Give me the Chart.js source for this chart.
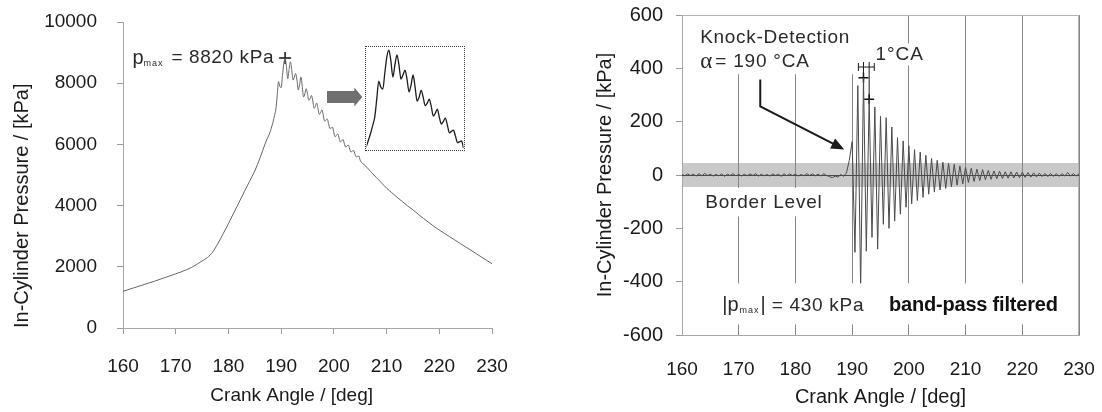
<!DOCTYPE html>
<html>
<head>
<meta charset="utf-8">
<title>Knock detection</title>
<script src="https://cdn.jsdelivr.net/npm/chart.js@4.4.1/dist/chart.umd.min.js"></script>
<style>
  html, body { margin: 0; padding: 0; background: #fff; }
  #wrap { position: relative; width: 1102px; height: 412px; overflow: hidden; }
  .pane { position: absolute; top: 0; height: 412px; }
  #leftPane { left: 0; width: 540px; }
  #rightPane { left: 540px; width: 562px; }
  #insetBox { position: absolute; box-sizing: border-box; border: 1.5px dotted #3a3a3a; background: #fff; }
</style>
</head>
<body>
<div id="wrap">
  <div class="pane" id="leftPane"><canvas id="chartPressure"></canvas></div>
  <div class="pane" id="rightPane"><canvas id="chartBandpass"></canvas></div>
  <div id="insetBox"><canvas id="chartInset"></canvas></div>
</div>
<script>
// ---- raw in-cylinder pressure [kPa] over crank angle [deg] ----
// compression rise, sampled per degree
const riseAngles = [160, 162, 164, 166, 168, 170, 172, 173, 174, 175, 176, 177,
                    178, 179, 180, 181, 182, 183, 184, 185, 186, 187];
const riseKpa = [1200, 1310, 1420, 1530, 1650, 1770, 1900, 1980, 2080, 2190, 2300, 2480,
                 2760, 3080, 3410, 3760, 4100, 4450, 4790, 5130, 5560, 6040];
// knock window, sampled every quarter degree from 188 to 205
const knockStart = 188;
const knockStep = 0.25;
const knockKpa = [
  6450, 6600, 6760, 6950,   // 188
  7150, 7600, 8050, 7900,   // 189
  7850, 8250, 8650, 8820,   // 190
  8550, 8150, 8450, 8700,   // 191
  8450, 8100, 8200, 8320,   // 192
  8100, 7780, 7950, 8200,   // 193
  7900, 7550, 7650, 7820,   // 194
  7650, 7440, 7500, 7600,   // 195
  7420, 7180, 7250, 7350,   // 196
  7150, 6980, 7050, 7130,   // 197
  6950, 6760, 6800, 6830,   // 198
  6680, 6520, 6540, 6560,   // 199
  6380, 6250, 6300, 6340,   // 200
  6200, 6080, 6120, 6160,   // 201
  6020, 5910, 5950, 5980,   // 202
  5850, 5750, 5780, 5800,   // 203
  5680, 5590, 5610, 5620,   // 204
  5480                      // 205
];
// expansion, sampled per degree
const tailAngles = [206, 207, 208, 209, 210, 211, 212, 213, 214, 215, 216, 217, 218,
                    219, 220, 221, 222, 223, 224, 225, 226, 227, 228, 229, 230];
const tailKpa = [5300, 5110, 4930, 4750, 4570, 4420, 4270, 4130, 3990, 3860, 3720, 3580, 3450,
                 3320, 3200, 3090, 2980, 2870, 2760, 2650, 2540, 2430, 2320, 2210, 2100];

// ---- band-pass filtered pressure [kPa], every half degree from 160 ----
const bandStart = 160;
const bandStep = 0.5;
const bandKpa = [
  // 160 .. 189 : background noise
  2, -3, 4, -2, 3, -4, 5, -3, 6, -2,
  3, -4, 2, -3, 4, -5, 3, -2, 5, -3,
  2, -4, 3, -3, 4, -2, 5, -4, 3, -3,
  2, -4, 4, -2, 3, -5, 5, -3, 4, -2,
  3, -4, 2, -3, 5, -2, 4, -3, 3, -4,
  5, -2, -6, -10, -4, -8, 2, -5, 8,
  // 189.5 .. 200 : knock onset
  55, 125, -290, 335, -430, 365, -286, 284, -234, 255, -278,
  220, -185, 215, -200, 180, -173, 140, -147, 128, -121, 110,
  // 200.5 .. 210
  -108, 95, -96, 86, -84, 74, -72, 62, -64, 55,
  -56, 48, -50, 44, -44, 40, -38, 34, -33, 28,
  // 210.5 .. 220
  -28, 25, -24, 22, -21, 20, -18, 17, -16, 15,
  -14, 14, -13, 12, -12, 12, -11, 11, -10, 10,
  // 220.5 .. 230
  -9, 9, -8, 8, -7, 7, -6, 6, -6, 6,
  -5, 5, -5, 5, -4, 9, -4, 5, -4, 4
];
const borderLevel = 45;          // +/- band drawn around zero
const periodMarks = [192, 193];  // two successive peaks, one period apart

// ---- axis ticks ----
const angleTicks = [160, 170, 180, 190, 200, 210, 220, 230];
const pressureTicks = [0, 2000, 4000, 6000, 8000, 10000];
const bandTicks = [-600, -400, -200, 0, 200, 400, 600];

// ---- annotation anchors (data coordinates) ----
const insetFrame = { from: 205.9, to: 224.9, top: 9215, bottom: 5780 };
const insetView = { from: 188, to: 200, min: 6350, max: 8880 };
const zoomArrow = { from: 198.7, to: 205.4, at: 7550 };
const knockArrow = [[173.8, 358], [173.8, 257], [188.6, 96]];

const SANS = "'Liberation Sans', Arial, sans-serif";
const INK = '#2a2a2a';

const rawPoints = [
  ...riseAngles.map((a, i) => ({ x: a, y: riseKpa[i] })),
  ...knockKpa.map((v, i) => ({ x: knockStart + i * knockStep, y: v })),
  ...tailAngles.map((a, i) => ({ x: a, y: tailKpa[i] }))
];
const bandPoints = bandKpa.map((v, i) => ({ x: bandStart + i * bandStep, y: v }));

const rawPeak = rawPoints.reduce((m, p) => (p.y > m.y ? p : m));
const bandPeak = bandPoints.reduce((m, p) => (Math.abs(p.y) > Math.abs(m.y) ? p : m));
const markPoints = periodMarks.map((a) => bandPoints.find((p) => p.x === a));

function step(list) { return list[1] - list[0]; }

// Draw a row of text runs (used for subscripts like p_max); returns its width.
function drawRuns(ctx, runs, x, y, measureOnly) {
  let cx = x;
  runs.forEach((r) => {
    ctx.font = r.font;
    ctx.letterSpacing = r.spacing || '0px';
    if (!measureOnly) ctx.fillText(r.text, cx, y + (r.dy || 0));
    cx += ctx.measureText(r.text).width + (r.gap || 0);
  });
  ctx.letterSpacing = '0px';
  return cx - x;
}

function whiteBox(ctx, area, x0, y0, x1, y1) {
  const l = Math.max(x0, area.left + 1), r = Math.min(x1, area.right - 1);
  const t = Math.max(y0, area.top + 1), b = Math.min(y1, area.bottom - 1);
  ctx.fillStyle = '#fff';
  ctx.fillRect(l, t, r - l, b - t);
}

// Fixed scale box size; edge labels may hang over the layout padding.
function fixedBox(size) {
  return (s) => {
    if (s.isHorizontal()) s.height = size; else s.width = size;
    s.paddingLeft = s.paddingRight = s.paddingTop = s.paddingBottom = 0;
  };
}

function baseScale(ticks, size) {
  return {
    type: 'linear',
    min: ticks[0],
    max: ticks[ticks.length - 1],
    ticks: { stepSize: step(ticks), color: '#1a1a1a', font: { family: SANS, size },
             callback: (v) => String(v) },
    border: { color: '#a8a8a8', width: 1 }
  };
}

// ---- left: raw trace ----
const pressureDecor = {
  id: 'pressureDecor',
  afterDatasetsDraw(chart) {
    const { ctx, scales: { x, y } } = chart;
    ctx.save();

    // gray block arrow pointing at the magnified view
    const ax0 = x.getPixelForValue(zoomArrow.from);
    const ax1 = x.getPixelForValue(zoomArrow.to);
    const ay = y.getPixelForValue(zoomArrow.at);
    ctx.fillStyle = '#707070';
    ctx.beginPath();
    ctx.moveTo(ax0, ay - 6);
    ctx.lineTo(ax1 - 8, ay - 6);
    ctx.lineTo(ax1 - 8, ay - 9.5);
    ctx.lineTo(ax1, ay);
    ctx.lineTo(ax1 - 8, ay + 9.5);
    ctx.lineTo(ax1 - 8, ay + 6);
    ctx.lineTo(ax0, ay + 6);
    ctx.closePath();
    ctx.fill();

    // p_max label left of the peak marker
    const runs = [
      { text: 'p', font: `20px ${SANS}` },
      { text: 'max', font: `9px ${SANS}`, spacing: '1px', dy: 5, gap: 2 },
      { text: ' = ' + rawPeak.y + ' kPa', font: `19px ${SANS}`, spacing: '0.6px' }
    ];
    ctx.fillStyle = INK;
    ctx.textBaseline = 'middle';
    ctx.textAlign = 'left';
    const px = x.getPixelForValue(rawPeak.x);
    const py = y.getPixelForValue(rawPeak.y);
    const w = drawRuns(ctx, runs, 0, 0, true);
    drawRuns(ctx, runs, px - 11 - w, py);
    ctx.restore();
  }
};

const leftX = baseScale(angleTicks, 19);
leftX.ticks.padding = 21;
leftX.grid = { drawOnChartArea: false, tickLength: 6, color: '#9a9a9a' };
// trailing spaces pull the centred title a little to the left
leftX.title = { display: true, text: 'Crank Angle / [deg]      ', color: '#1a1a1a',
                font: { family: SANS, size: 19 }, padding: { top: 0, bottom: 5 } };
leftX.afterFit = fixedBox(84);

const leftY = baseScale(pressureTicks, 19);
leftY.ticks.padding = 20;
leftY.grid = { drawOnChartArea: false, tickLength: 6, color: '#9a9a9a' };
leftY.title = { display: true, text: 'In-Cylinder Pressure / [kPa]', color: '#1a1a1a', align: 'start',
                font: { family: SANS, size: 20 }, padding: { top: 10, bottom: 0 } };
leftY.afterFit = fixedBox(123);

const leftChart = new Chart(document.getElementById('chartPressure'), {
  type: 'line',
  data: {
    datasets: [
      { data: rawPoints, borderColor: '#666', borderWidth: 1, pointRadius: 0,
        cubicInterpolationMode: 'monotone' },
      { type: 'scatter', data: [rawPeak], pointStyle: 'cross', pointRadius: 6,
        pointBorderColor: '#111', pointBorderWidth: 1.5, showLine: false }
    ]
  },
  options: {
    responsive: true,
    maintainAspectRatio: false,
    animation: false,
    layout: { padding: { left: 0, right: 48, top: 22, bottom: 0 } },
    plugins: { legend: { display: false }, tooltip: { enabled: false } },
    scales: { x: leftX, y: leftY }
  },
  plugins: [pressureDecor]
});

// magnified view of the knock window, placed over the main plot
(function placeInset() {
  const { x, y } = leftChart.scales;
  const box = document.getElementById('insetBox');
  const l = x.getPixelForValue(insetFrame.from);
  const r = x.getPixelForValue(insetFrame.to);
  const t = y.getPixelForValue(insetFrame.top);
  const b = y.getPixelForValue(insetFrame.bottom);
  box.style.left = `${l}px`;
  box.style.top = `${t}px`;
  box.style.width = `${r - l}px`;
  box.style.height = `${b - t}px`;

  new Chart(document.getElementById('chartInset'), {
    type: 'line',
    data: {
      datasets: [{ data: rawPoints, borderColor: '#1e1e1e', borderWidth: 1.3, pointRadius: 0,
                   cubicInterpolationMode: 'monotone' }]
    },
    options: {
      responsive: true,
      maintainAspectRatio: false,
      animation: false,
      layout: { padding: 0 },
      plugins: { legend: { display: false }, tooltip: { enabled: false } },
      scales: {
        x: { type: 'linear', display: false, min: insetView.from, max: insetView.to },
        y: { display: false, min: insetView.min, max: insetView.max }
      }
    }
  });
})();

// ---- right: band-pass filtered trace ----
const knockDecor = {
  id: 'knockDecor',
  beforeDraw(chart) {
    const { ctx, chartArea: a, scales: { y } } = chart;
    const t = y.getPixelForValue(borderLevel);
    const b = y.getPixelForValue(-borderLevel);
    ctx.save();
    ctx.fillStyle = '#c9c9c9';
    ctx.fillRect(a.left, t, a.right - a.left, b - t);
    ctx.restore();
  },
  beforeDatasetsDraw(chart) {
    const { ctx, chartArea: a, scales: { y } } = chart;
    ctx.save();
    ctx.strokeStyle = '#b4b4b4';
    ctx.lineWidth = 1;
    ctx.beginPath();
    ctx.moveTo(a.left, a.top + 0.5);
    ctx.lineTo(a.right - 0.5, a.top + 0.5);
    ctx.lineTo(a.right - 0.5, a.bottom);
    ctx.stroke();
    const z = Math.round(y.getPixelForValue(0)) + 0.5;
    ctx.strokeStyle = '#4a4a4a';
    ctx.beginPath();
    ctx.moveTo(a.left, z);
    ctx.lineTo(a.right, z);
    ctx.stroke();
    ctx.restore();
  },
  afterDatasetsDraw(chart) {
    const { ctx, chartArea: a, scales: { x, y } } = chart;
    const X = (v) => x.getPixelForValue(v);
    const Y = (v) => y.getPixelForValue(v);
    ctx.save();
    ctx.textBaseline = 'middle';
    ctx.textAlign = 'left';
    const labelFont = `19px ${SANS}`;

    // Knock-Detection label
    const kx = X(163.2);
    const ky1 = Y(516), ky2 = Y(423);
    ctx.font = labelFont; ctx.letterSpacing = '0.7px';
    const kw = ctx.measureText('Knock-Detection').width;
    whiteBox(ctx, a, kx - 5, a.top, kx + kw + 6, ky2 + 12);
    ctx.fillStyle = INK;
    ctx.fillText('Knock-Detection', kx, ky1);
    drawRuns(ctx, [
      { text: 'α', font: `23px 'Liberation Serif', serif`, gap: 3 },
      { text: '= 190 °CA', font: labelFont, spacing: '0.8px' }
    ], kx, ky2);

    // Border Level label
    ctx.font = labelFont; ctx.letterSpacing = '0.8px';
    const bx = X(164.1), by = Y(-103);
    const bw = ctx.measureText('Border Level').width;
    whiteBox(ctx, a, bx - 5, Y(-borderLevel) + 1, bx + bw + 5, by + 14);
    ctx.fillStyle = INK;
    ctx.fillText('Border Level', bx, by);

    // |p_max| label and filter note
    const ly = Y(-489);
    const pRuns = [
      { text: '|p', font: `20px ${SANS}`, gap: 1 },
      { text: 'max', font: `9px ${SANS}`, spacing: '1px', dy: 5, gap: 1 },
      { text: '|', font: `20px ${SANS}` },
      { text: ' = ' + Math.abs(bandPeak.y) + ' kPa', font: `19px ${SANS}`, spacing: '0.7px' }
    ];
    const px = X(167.1);
    const pw = drawRuns(ctx, pRuns, 0, 0, true);
    whiteBox(ctx, a, px - 4, ly - 22, px + pw + 4, ly + 19);
    ctx.fillStyle = INK;
    drawRuns(ctx, pRuns, px, ly);

    const fx = X(196.5);
    ctx.font = `bold 20px ${SANS}`;
    ctx.letterSpacing = '-0.2px';
    const fw = ctx.measureText('band-pass filtered').width;
    whiteBox(ctx, a, fx - 4, ly - 22, fx + fw + 4, ly + 19);
    ctx.fillStyle = '#111';
    ctx.fillText('band-pass filtered', fx, ly);

    // 1°CA period dimension between two successive peaks
    const dy = Y(405);
    ctx.font = labelFont; ctx.letterSpacing = '1px';
    const cx = X(194.1), cy = Y(452);
    const cw = ctx.measureText('1°CA').width;
    whiteBox(ctx, a, cx - 2, cy - 11, cx + cw + 2, cy + 11);
    ctx.fillStyle = INK;
    ctx.fillText('1°CA', cx, cy);
    ctx.strokeStyle = '#1a1a1a';
    ctx.lineWidth = 1;
    ctx.beginPath();
    ctx.moveTo(X(191.1), dy); ctx.lineTo(X(193.9), dy);
    ctx.moveTo(X(191.1), dy - 4); ctx.lineTo(X(191.1), dy + 4);
    ctx.moveTo(X(193.9), dy - 4); ctx.lineTo(X(193.9), dy + 4);
    markPoints.forEach((p) => {
      ctx.moveTo(X(p.x), dy - 5);
      ctx.lineTo(X(p.x), Y(p.y));
    });
    ctx.stroke();

    // arrow towards the knock onset
    const pts = knockArrow.map(([ax, ay]) => [X(ax), Y(ay)]);
    const [ex, ey] = pts[pts.length - 1];
    const [sx, sy] = pts[pts.length - 2];
    const ang = Math.atan2(ey - sy, ex - sx);
    const head = 13;
    ctx.strokeStyle = '#1a1a1a';
    ctx.lineWidth = 2;
    ctx.beginPath();
    ctx.moveTo(pts[0][0], pts[0][1]);
    for (let i = 1; i < pts.length - 1; i++) ctx.lineTo(pts[i][0], pts[i][1]);
    ctx.lineTo(ex - head * 0.8 * Math.cos(ang), ey - head * 0.8 * Math.sin(ang));
    ctx.stroke();
    ctx.fillStyle = '#1a1a1a';
    ctx.beginPath();
    ctx.moveTo(ex, ey);
    ctx.lineTo(ex - head * Math.cos(ang) + 5.5 * Math.sin(ang), ey - head * Math.sin(ang) - 5.5 * Math.cos(ang));
    ctx.lineTo(ex - head * Math.cos(ang) - 5.5 * Math.sin(ang), ey - head * Math.sin(ang) + 5.5 * Math.cos(ang));
    ctx.closePath();
    ctx.fill();
    ctx.restore();
  }
};

const rightX = baseScale(angleTicks, 19);
rightX.ticks.padding = 23;
rightX.grid = { drawOnChartArea: true, drawTicks: false, color: '#858585', lineWidth: 1 };
rightX.title = { display: true, text: 'Crank Angle / [deg]', color: '#1a1a1a',
                 font: { family: SANS, size: 20 }, padding: { top: 0, bottom: 3 } };
rightX.afterFit = fixedBox(77);

const rightY = baseScale(bandTicks, 20);
rightY.ticks.padding = 13;
rightY.grid = { drawOnChartArea: false, tickLength: 6, color: '#9a9a9a' };
rightY.title = { display: true, text: 'In-Cylinder Pressure / [kPa]', color: '#1a1a1a',
                 font: { family: SANS, size: 20 }, padding: { top: 13, bottom: 0 } };
rightY.afterFit = fixedBox(102);

new Chart(document.getElementById('chartBandpass'), {
  type: 'line',
  data: {
    datasets: [
      { data: bandPoints, borderColor: '#4a4a4a', borderWidth: 1, pointRadius: 0, tension: 0 },
      { type: 'scatter', data: markPoints, pointStyle: 'cross', pointRadius: 5,
        pointBorderColor: '#111', pointBorderWidth: 1.5, showLine: false }
    ]
  },
  options: {
    responsive: true,
    maintainAspectRatio: false,
    animation: false,
    layout: { padding: { left: 40, right: 23, top: 15, bottom: 0 } },
    plugins: { legend: { display: false }, tooltip: { enabled: false } },
    scales: { x: rightX, y: rightY }
  },
  plugins: [knockDecor]
});
</script>
</body>
</html>
